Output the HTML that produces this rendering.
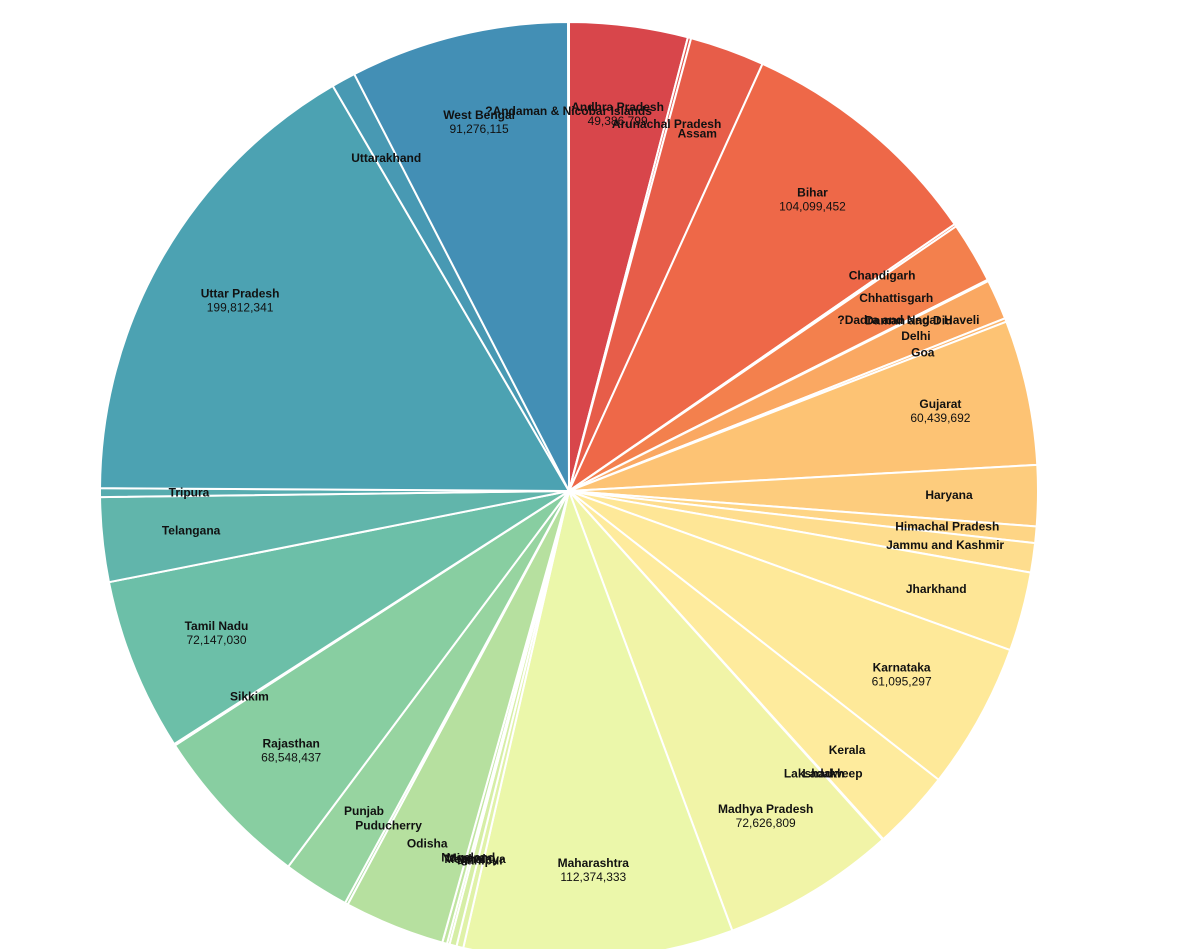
<!DOCTYPE html>
<html><head><meta charset="utf-8">
<style>
html,body{margin:0;padding:0;background:#fff;}
svg{display:block;}
text{font-family:"Liberation Sans",Arial,sans-serif;font-size:12px;fill:#111;}
.n{font-weight:bold;}
</style></head>
<body>
<svg id="s" width="1189" height="949" viewBox="0 0 1189 949"></svg>
<script>
var data=[
["Andhra Pradesh",49386799,"49,386,799"],
["Arunachal Pradesh",1383727,""],
["Assam",31205576,""],
["Bihar",104099452,"104,099,452"],
["Chandigarh",1055450,""],
["Chhattisgarh",25545198,""],
["?Dadra and Nagar Haveli",343709,""],
["Daman and Diu",243247,""],
["Delhi",16787941,""],
["Goa",1458545,""],
["Gujarat",60439692,"60,439,692"],
["Haryana",25351462,""],
["Himachal Pradesh",6864602,""],
["Jammu and Kashmir",12267013,""],
["Jharkhand",32988134,""],
["Karnataka",61095297,"61,095,297"],
["Kerala",33406061,""],
["Ladakh",274289,""],
["Lakshadweep",64473,""],
["Madhya Pradesh",72626809,"72,626,809"],
["Maharashtra",112374333,"112,374,333"],
["Manipur",2855794,""],
["Meghalaya",2966889,""],
["Mizoram",1097206,""],
["Nagaland",1978502,""],
["Odisha",41974218,""],
["Puducherry",1247953,""],
["Punjab",27743338,""],
["Rajasthan",68548437,"68,548,437"],
["Sikkim",610577,""],
["Tamil Nadu",72147030,"72,147,030"],
["Telangana",35193978,""],
["Tripura",3673917,""],
["Uttar Pradesh",199812341,"199,812,341"],
["Uttarakhand",10086292,""],
["West Bengal",91276115,"91,276,115"],
["?Andaman & Nicobar Islands",380581,""]
];
var anchors=[[0,[216,70,75]],[3,[238,104,72]],[6,[246,140,80]],[10,[253,195,116]],[14,[254,230,150]],[17,[254,238,160]],[20,[235,247,170]],[25,[182,224,159]],[28,[136,206,161]],[30,[108,191,168]],[33,[76,162,178]],[36,[63,134,182]]];
function col(i){for(var k=0;k<anchors.length-1;k++){var a=anchors[k],b=anchors[k+1];if(i>=a[0]&&i<=b[0]){var t=(i-a[0])/(b[0]-a[0]);var c=a[1].map(function(v,j){return Math.round(v+(b[1][j]-v)*t)});return "rgb("+c+")";}}return "rgb(63,134,182)";}
var cx=569,cy=491,R=469,LR=380;
var tot=data.reduce(function(s,d){return s+d[1]},0);
var svg=document.getElementById('s'),ns="http://www.w3.org/2000/svg";
var a0=0,paths="",labels="";
data.forEach(function(d,i){
 var a1=a0+d[1]/tot*2*Math.PI;
 var x0=cx+R*Math.sin(a0),y0=cy-R*Math.cos(a0),x1=cx+R*Math.sin(a1),y1=cy-R*Math.cos(a1);
 var large=(a1-a0)>Math.PI?1:0;
 paths+='<path d="M'+cx+','+cy+'L'+x0.toFixed(2)+','+y0.toFixed(2)+'A'+R+','+R+' 0 '+large+' 1 '+x1.toFixed(2)+','+y1.toFixed(2)+'Z" fill="'+col(i)+'" stroke="#fff" stroke-width="2" stroke-linejoin="round"/>';
 var m=(a0+a1)/2,lx=cx+LR*Math.sin(m),ly=cy-LR*Math.cos(m);
 if(d[2]){
  labels+='<text class="n" x="'+lx.toFixed(1)+'" y="'+(ly-3).toFixed(1)+'" text-anchor="middle">'+d[0]+'</text>';
  labels+='<text x="'+lx.toFixed(1)+'" y="'+(ly+11).toFixed(1)+'" text-anchor="middle">'+d[2]+'</text>';
 } else {
  labels+='<text class="n" x="'+lx.toFixed(1)+'" y="'+(ly+4).toFixed(1)+'" text-anchor="middle">'+d[0]+'</text>';
 }
 a0=a1;
});
svg.innerHTML=paths+labels;
</script>
</body></html>
